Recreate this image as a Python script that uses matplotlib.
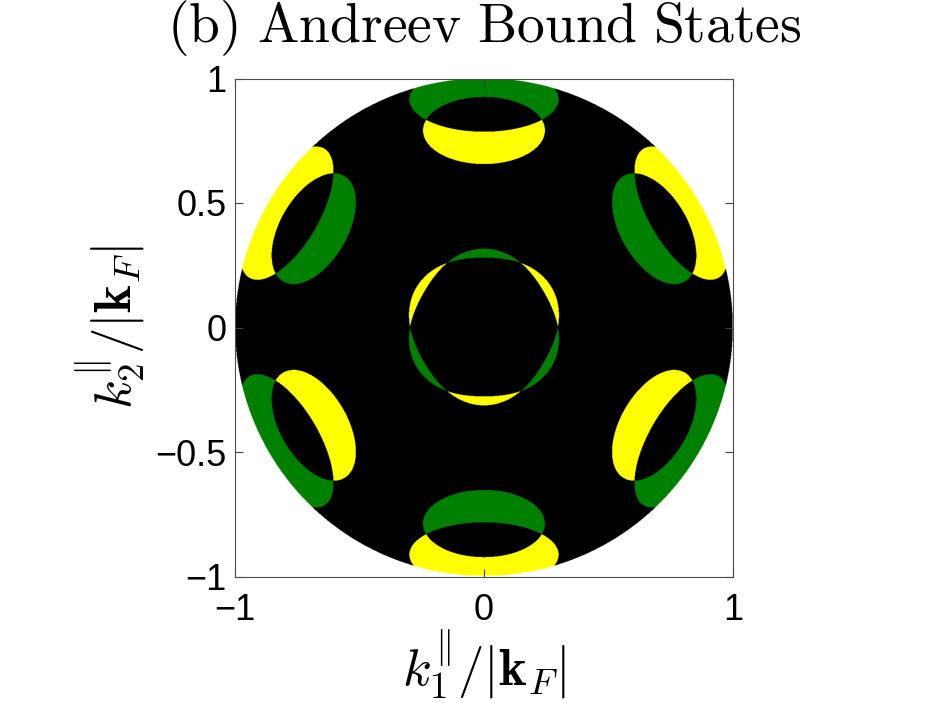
import numpy as np
import matplotlib
matplotlib.use("Agg")
import matplotlib.pyplot as plt
from matplotlib.colors import ListedColormap

plt.rcParams['mathtext.fontset'] = 'cm'
plt.rcParams['font.family'] = ['Liberation Sans', 'DejaVu Sans']

# lobes of the Andreev bound states (direction in degrees, colour of the inner lobe)
lobe_angles = [90, 30, -30, -90, -150, 150]
inner_colour = ['yellow', 'green', 'yellow', 'green', 'yellow', 'green']

# ellipse shape (distance from centre, half length, half width)
inner_ellipse = [0.79, 0.245, 0.135]
outer_ellipse = [0.915, 0.30, 0.13]

# central ring: mean radius and 3-fold modulation
ring_radius = 0.297
ring_wobble = 0.018

xticks = [-1, 0, 1]
yticks = [-1, -0.5, 0, 0.5, 1]

# grid
n = 1200
x = np.linspace(-1, 1, n)
X, Y = np.meshgrid(x, x)
R = np.hypot(X, Y)
T = np.arctan2(Y, X)


def in_ellipse(ang, ell):
    r0, a, b = ell
    t = np.deg2rad(ang)
    cx, cy = r0*np.cos(t), r0*np.sin(t)
    # radial (b) and tangential (a) coordinates
    u = (X - cx)*np.cos(t) + (Y - cy)*np.sin(t)
    v = -(X - cx)*np.sin(t) + (Y - cy)*np.cos(t)
    return (u/b)**2 + (v/a)**2 <= 1


# 0 black, 1 yellow, 2 green
img = np.zeros_like(R)
code = {'yellow': 1, 'green': 2}
for ang, col in zip(lobe_angles, inner_colour):
    other = 'green' if col == 'yellow' else 'yellow'
    A = in_ellipse(ang, inner_ellipse)
    B = in_ellipse(ang, outer_ellipse)
    img[A & ~B] = code[col]
    img[B & ~A] = code[other]

Ry = ring_radius + ring_wobble*np.sin(3*T)
Rg = ring_radius - ring_wobble*np.sin(3*T)
img[(R < Ry) & (R >= Rg)] = 1
img[(R < Rg) & (R >= Ry)] = 2

img = np.ma.masked_where(R > 1, img)

cmap = ListedColormap(['black', 'yellow', '#008000'])
cmap.set_bad('white')

fig = plt.figure(figsize=(9.34, 7.03), dpi=100)
ax = fig.add_axes([235/934, 126/703, 498/934, 499/703])
ax.imshow(img, cmap=cmap, vmin=-0.5, vmax=2.5, extent=[-1, 1, -1, 1],
          origin='lower', interpolation='antialiased')

ax.set_xlim(-1, 1)
ax.set_ylim(-1, 1)
ax.set_xticks(xticks)
ax.set_yticks(yticks)
ax.set_xticklabels(['\u22121', '0', '1'])
ax.set_yticklabels(['\u22121', '\u22120.5', '0', '0.5', '1'])
ax.tick_params(direction='in', labelsize=26, length=6, width=0.8,
               top=True, right=True, pad=6, colors='0.25', labelcolor='black')
ax.tick_params(axis='x', pad=12)
for s in ax.spines.values():
    s.set_color('0.3')
    s.set_linewidth(0.8)

ax.set_xlabel(r'$k^{\Vert}_1/|\mathbf{k}_F|$', fontsize=38, labelpad=0)
ax.set_ylabel(r'$k^{\Vert}_2/|\mathbf{k}_F|$', fontsize=38, labelpad=6)
ax.set_title(r'$\mathrm{(b)\ Andreev\ Bound\ States}$', fontsize=40, pad=26)

fig.savefig('out.png', dpi=100)
